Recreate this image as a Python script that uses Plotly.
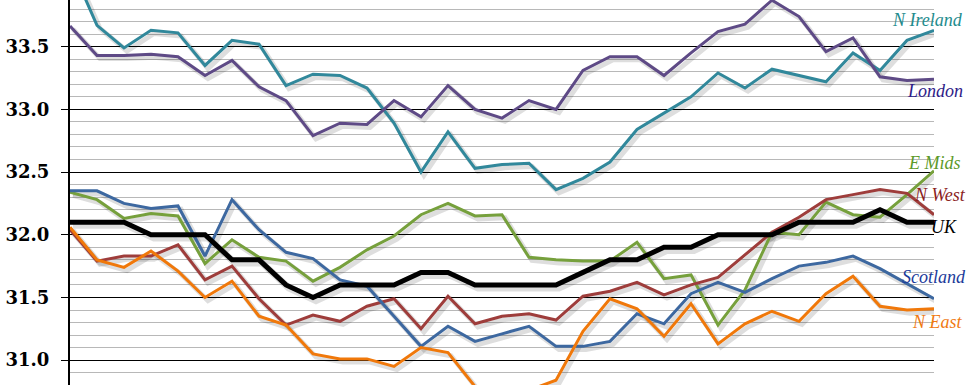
import plotly.graph_objects as go

# quarters (index only; no x labels visible in the reference)
periods = list(range(33))

n_ireland = [34.16, 33.67, 33.49, 33.63, 33.61, 33.35, 33.55, 33.52, 33.19, 33.28, 33.27, 33.17, 32.89,
             32.50, 32.82, 32.53, 32.56, 32.57, 32.36, 32.45, 32.58, 32.84, 32.97, 33.10, 33.29, 33.17,
             33.32, 33.27, 33.22, 33.45, 33.31, 33.55, 33.63]
london = [33.665, 33.43, 33.43, 33.44, 33.42, 33.27, 33.39, 33.18, 33.07, 32.79, 32.89, 32.88, 33.07,
          32.94, 33.19, 33.00, 32.93, 33.07, 33.00, 33.31, 33.42, 33.42, 33.27, 33.45, 33.62, 33.68,
          33.87, 33.74, 33.46, 33.57, 33.26, 33.23, 33.24]
e_mids = [32.34, 32.28, 32.13, 32.17, 32.15, 31.77, 31.96, 31.82, 31.79, 31.63, 31.74, 31.88, 31.99,
          32.16, 32.25, 32.15, 32.16, 31.82, 31.80, 31.79, 31.79, 31.94, 31.65, 31.68, 31.28, 31.56,
          32.02, 32.00, 32.26, 32.16, 32.14, 32.32, 32.51]
n_west = [32.04, 31.79, 31.83, 31.83, 31.92, 31.64, 31.75, 31.49, 31.28, 31.36, 31.31, 31.43, 31.49,
          31.25, 31.51, 31.29, 31.35, 31.37, 31.32, 31.51, 31.55, 31.62, 31.52, 31.60, 31.66, 31.84,
          32.02, 32.14, 32.28, 32.32, 32.36, 32.33, 32.16]
scotland = [32.35, 32.35, 32.25, 32.21, 32.23, 31.83, 32.28, 32.04, 31.86, 31.81, 31.64, 31.59, 31.35,
            31.11, 31.27, 31.15, 31.21, 31.27, 31.11, 31.11, 31.15, 31.37, 31.29, 31.53, 31.62, 31.54,
            31.65, 31.75, 31.78, 31.83, 31.73, 31.61, 31.49]
n_east = [32.06, 31.80, 31.74, 31.87, 31.71, 31.50, 31.63, 31.35, 31.28, 31.05, 31.01, 31.01, 30.95,
          31.10, 31.06, 30.79, 30.73, 30.76, 30.84, 31.23, 31.49, 31.41, 31.19, 31.45, 31.13, 31.29,
          31.39, 31.31, 31.53, 31.67, 31.43, 31.40, 31.41]
uk = [32.1, 32.1, 32.1, 32.0, 32.0, 32.0, 31.8, 31.8, 31.6, 31.5, 31.6, 31.6, 31.6, 31.7, 31.7, 31.6,
      31.6, 31.6, 31.6, 31.7, 31.8, 31.8, 31.9, 31.9, 32.0, 32.0, 32.0, 32.1, 32.1, 32.1, 32.2, 32.1, 32.1]

tick_vals = [31.0, 31.5, 32.0, 32.5, 33.0, 33.5]
tick_text = ["31.0", "31.5", "32.0", "32.5", "33.0", "33.5"]

series = [
    ("N Ireland", n_ireland, "#31889B", 3, "#1E8C8E"),
    ("London", london, "#5E4A86", 3, "#2E1C88"),
    ("E Mids", e_mids, "#76A03C", 3, "#5C9A2A"),
    ("N West", n_west, "#9E3D3B", 3, "#8B1E1E"),
    ("Scotland", scotland, "#3D68A0", 3, "#1B3A9A"),
    ("N East", n_east, "#F0780A", 3, "#F07A12"),
    ("UK", uk, "#000000", 5, "#000000"),
]

# label placement in pixels: right edge x, vertical centre y
label_pos = {
    "N Ireland": (964, 20),
    "London": (964, 91),
    "E Mids": (962, 163),
    "N West": (967, 195),
    "UK": (958, 227),
    "Scotland": (967, 277),
    "N East": (964, 322),
}

W, H = 967, 385
ML, MR = 70, 33
PW = W - ML - MR

fig = go.Figure()

# soft drop shadows
for name, vals, col, w, lcol in series:
    fig.add_trace(go.Scatter(
        x=[p + 0.11 for p in periods], y=[v - 0.025 for v in vals], mode="lines",
        line=dict(color="rgba(0,0,0,0.13)", width=w + 2), hoverinfo="skip", showlegend=False))

for name, vals, col, w, lcol in series:
    fig.add_trace(go.Scatter(
        x=periods, y=vals, mode="lines", name=name,
        line=dict(color=col, width=w), showlegend=False))

for name, vals, col, w, lcol in series:
    px, py = label_pos[name]
    fig.add_annotation(
        x=(px - ML) / PW, y=1 - py / H, xref="paper", yref="paper",
        xanchor="right", yanchor="middle", text=name, showarrow=False, borderpad=0,
        font=dict(family="Liberation Serif", size=18, color=lcol, style="italic"))

fig.update_layout(
    width=W, height=H,
    margin=dict(l=ML, r=MR, t=0, b=0, autoexpand=False),
    paper_bgcolor="white", plot_bgcolor="white",
    showlegend=False,
    xaxis=dict(range=[0, 32], visible=False, showgrid=False, zeroline=False, automargin=False),
    yaxis=dict(
        range=[30.802, 33.872], automargin=False,
        tickmode="array", tickvals=tick_vals, ticktext=tick_text,
        showgrid=True, gridcolor="black", gridwidth=1,
        minor=dict(dtick=0.1, tick0=30.0, showgrid=True, gridcolor="#B8B8B8", gridwidth=1, ticks=""),
        showline=True, linecolor="black", linewidth=2,
        ticks="outside", ticklen=7, tickcolor="black", tickwidth=1,
        ticklabelstandoff=8,
        tickfont=dict(family="DejaVu Serif", size=18, color="black", weight="bold"),
        zeroline=False,
    ),
)

fig.write_html("out.html", config={"displayModeBar": False},
               post_script="document.body.style.margin='0';document.body.style.padding='0';")
